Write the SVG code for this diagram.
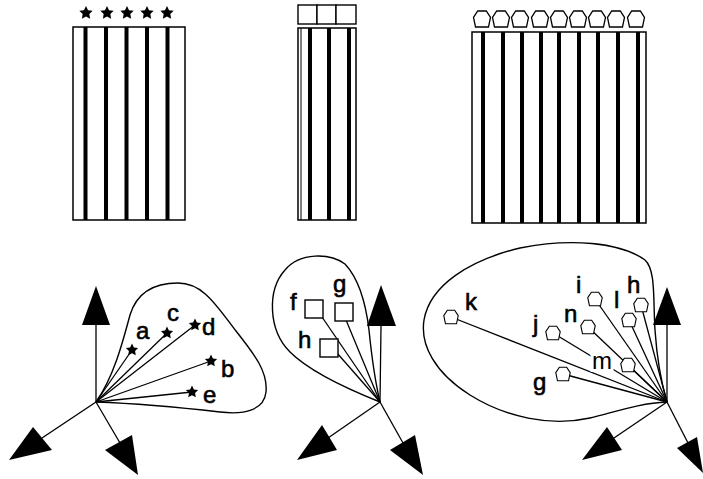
<svg xmlns="http://www.w3.org/2000/svg" width="703" height="479" viewBox="0 0 703 479">
<style>
.frame{fill:#fff;stroke:#000;stroke-width:1.5}
.thick{stroke:#000;stroke-width:4}
.blob{fill:none;stroke:#000;stroke-width:1.4}
.ln{stroke:#000;stroke-width:1.3;fill:none}
.head{fill:#000}
.sq{fill:#fff;stroke:#000;stroke-width:1.4}
.hex{fill:#fff;stroke:#000;stroke-width:1.3}
.star{fill:#000}
.lbl{font-family:"Liberation Sans",Arial,sans-serif;font-size:24px;fill:#000;stroke:#000;stroke-width:0.6}
.halo{stroke:#fff;stroke-width:6;paint-order:stroke}
</style>
<defs>
<path id="star" d="M0,-7 L2.06,-2.83 L6.66,-2.16 L3.33,1.08 L4.11,5.66 L0,3.5 L-4.11,5.66 L-3.33,1.08 L-6.66,-2.16 L-2.06,-2.83 Z"/>
<path id="hex" d="M-4.3,-8 L4.3,-8 L8.5,-1.5 L6.5,8 L-6.5,8 L-8.5,-1.5 Z"/>
</defs>

<g id="grid1">
<rect class="frame" x="73" y="27" width="112" height="193"/>
<g class="thick"><line x1="85.5" y1="27" x2="85.5" y2="220"/><line x1="106" y1="27" x2="106" y2="220"/><line x1="126.5" y1="27" x2="126.5" y2="220"/><line x1="147" y1="27" x2="147" y2="220"/><line x1="167.5" y1="27" x2="167.5" y2="220"/></g>
<g class="star"><use href="#star" x="86" y="13"/><use href="#star" x="107" y="13"/><use href="#star" x="127" y="13"/><use href="#star" x="147" y="13"/><use href="#star" x="167" y="13"/></g>
</g>

<g id="grid2">
<rect class="frame" x="298" y="28" width="58" height="192"/>
<line x1="301" y1="28" x2="301" y2="220" stroke="#000" stroke-width="1"/>
<g class="thick"><line x1="310" y1="28" x2="310" y2="220"/><line x1="329" y1="28" x2="329" y2="220"/><line x1="349" y1="28" x2="349" y2="220"/></g>
<g class="sq"><rect x="298" y="5" width="19" height="19"/><rect x="317" y="5" width="19" height="19"/><rect x="336" y="5" width="20" height="19"/></g>
</g>

<g id="grid3">
<rect class="frame" x="472" y="32" width="174" height="191"/>
<g class="thick"><line x1="483" y1="32" x2="483" y2="223"/><line x1="503" y1="32" x2="503" y2="223"/><line x1="522" y1="32" x2="522" y2="223"/><line x1="541" y1="32" x2="541" y2="223"/><line x1="559" y1="32" x2="559" y2="223"/><line x1="579" y1="32" x2="579" y2="223"/><line x1="598" y1="32" x2="598" y2="223"/><line x1="618" y1="32" x2="618" y2="223"/><line x1="638" y1="32" x2="638" y2="223"/></g>
<g class="hex"><use href="#hex" x="482" y="19"/><use href="#hex" x="501" y="19"/><use href="#hex" x="520" y="19"/><use href="#hex" x="540" y="19"/><use href="#hex" x="559" y="19"/><use href="#hex" x="578" y="19"/><use href="#hex" x="597" y="19"/><use href="#hex" x="616" y="19"/><use href="#hex" x="636" y="19"/></g>
</g>

<g id="connectors">
<line class="ln" x1="96" y1="402" x2="132" y2="350"/>
<line class="ln" x1="96" y1="402" x2="167" y2="333"/>
<line class="ln" x1="96" y1="402" x2="195" y2="325"/>
<line class="ln" x1="96" y1="402" x2="211" y2="361"/>
<line class="ln" x1="96" y1="402" x2="192" y2="392"/>
<line class="ln" x1="96" y1="402" x2="96" y2="325"/>
<line class="ln" x1="96" y1="402" x2="42" y2="438"/>
<line class="ln" x1="96" y1="402" x2="120" y2="443"/>
<line class="ln" x1="380" y1="402" x2="322" y2="317"/>
<line class="ln" x1="380" y1="402" x2="346" y2="320"/>
<line class="ln" x1="380" y1="402" x2="337" y2="353"/>
<line class="ln" x1="380" y1="402" x2="381" y2="326"/>
<line class="ln" x1="380" y1="402" x2="328" y2="438"/>
<line class="ln" x1="380" y1="402" x2="403" y2="443"/>
<line class="ln" x1="667" y1="402" x2="451" y2="317"/>
<line class="ln" x1="667" y1="402" x2="553" y2="333"/>
<line class="ln" x1="667" y1="402" x2="595" y2="299"/>
<line class="ln" x1="667" y1="402" x2="588" y2="327"/>
<line class="ln" x1="667" y1="402" x2="629" y2="320"/>
<line class="ln" x1="667" y1="402" x2="641" y2="305"/>
<line class="ln" x1="667" y1="402" x2="628" y2="365"/>
<line class="ln" x1="667" y1="402" x2="563" y2="374"/>
<line class="ln" x1="667" y1="402" x2="667" y2="325"/>
<line class="ln" x1="667" y1="402" x2="614" y2="438"/>
<line class="ln" x1="667" y1="402" x2="688" y2="443"/>
</g>

<g id="space1">
<path class="blob" d="M96,402 C113,378 122,345 130,315 C137,292 155,283 178,283 C203,283 216,305 236,331 C255,355 268,372 266,392 C264,410 245,415 220,412 C185,408 150,404 96,402 Z"/>
<polygon class="head" points="96,286 82,325 110,325"/>
<polygon class="head" points="9,460 33,427 52,450"/>
<polygon class="head" points="105,450 132,435 138,475"/>
</g>
<g id="a"><use class="star" href="#star" transform="translate(132,350) scale(0.92)"/><text class="lbl" x="136" y="339">a</text></g>
<g id="c"><use class="star" href="#star" transform="translate(167,333) scale(0.92)"/><text class="lbl" x="167" y="321">c</text></g>
<g id="d"><use class="star" href="#star" transform="translate(195,325) scale(0.92)"/><text class="lbl" x="202" y="335">d</text></g>
<g id="b"><use class="star" href="#star" transform="translate(211,361) scale(0.92)"/><text class="lbl" x="221" y="377">b</text></g>
<g id="e"><use class="star" href="#star" transform="translate(192,392) scale(0.92)"/><text class="lbl" x="203" y="403">e</text></g>

<g id="space2">
<path class="blob" d="M380,402 C355,392 310,372 290,352 C268,330 267,290 285,270 C300,252 330,253 345,264 C360,280 366,305 369,330 C372,360 376,385 380,402 Z"/>
<polygon class="head" points="381,285 367,326 396,326"/>
<polygon class="head" points="297,460 322,425 337,450"/>
<polygon class="head" points="390,450 415,435 423,475"/>
</g>
<g id="f2"><rect class="sq" x="305" y="300" width="18" height="18"/><text class="lbl" x="290" y="310">f</text></g>
<g id="g2"><rect class="sq" x="335" y="303" width="18" height="18"/><text class="lbl" x="333" y="292">g</text></g>
<g id="h2"><rect class="sq" x="320" y="339" width="18" height="18"/><text class="lbl" x="298" y="348">h</text></g>

<g id="space3">
<path class="blob" d="M667,402 C640,403 615,412 590,418 C550,427 505,417 470,395 C435,373 420,345 424,320 C430,285 470,260 520,248 C570,238 620,242 645,260 C656,270 653,300 655,330 C657,360 662,385 667,402 Z"/>
<polygon class="head" points="667,287 653,325 681,325"/>
<polygon class="head" points="582,460 607,427 622,450"/>
<polygon class="head" points="677,448 697,437 703,473"/>
</g>
<g id="k3"><use class="hex" href="#hex" transform="translate(451,317) scale(0.85)"/><text class="lbl" x="465" y="310">k</text></g>
<g id="j3"><use class="hex" href="#hex" transform="translate(553,333) scale(0.85)"/><text class="lbl" x="533" y="332">j</text></g>
<g id="i3"><use class="hex" href="#hex" transform="translate(595,299) scale(0.85)"/><text class="lbl" x="576" y="293">i</text></g>
<g id="n3"><use class="hex" href="#hex" transform="translate(588,327) scale(0.85)"/><text class="lbl" x="564" y="322">n</text></g>
<g id="l3"><use class="hex" href="#hex" transform="translate(629,320) scale(0.85)"/><text class="lbl" x="614" y="308">l</text></g>
<g id="h3"><use class="hex" href="#hex" transform="translate(641,305) scale(0.85)"/><text class="lbl" x="627" y="293">h</text></g>
<g id="m3"><use class="hex" href="#hex" transform="translate(628,365) scale(0.85)"/><text class="lbl halo" x="592" y="369">m</text></g>
<g id="g3"><use class="hex" href="#hex" transform="translate(563,374) scale(0.85)"/><text class="lbl" x="533" y="390">g</text></g>
</svg>
